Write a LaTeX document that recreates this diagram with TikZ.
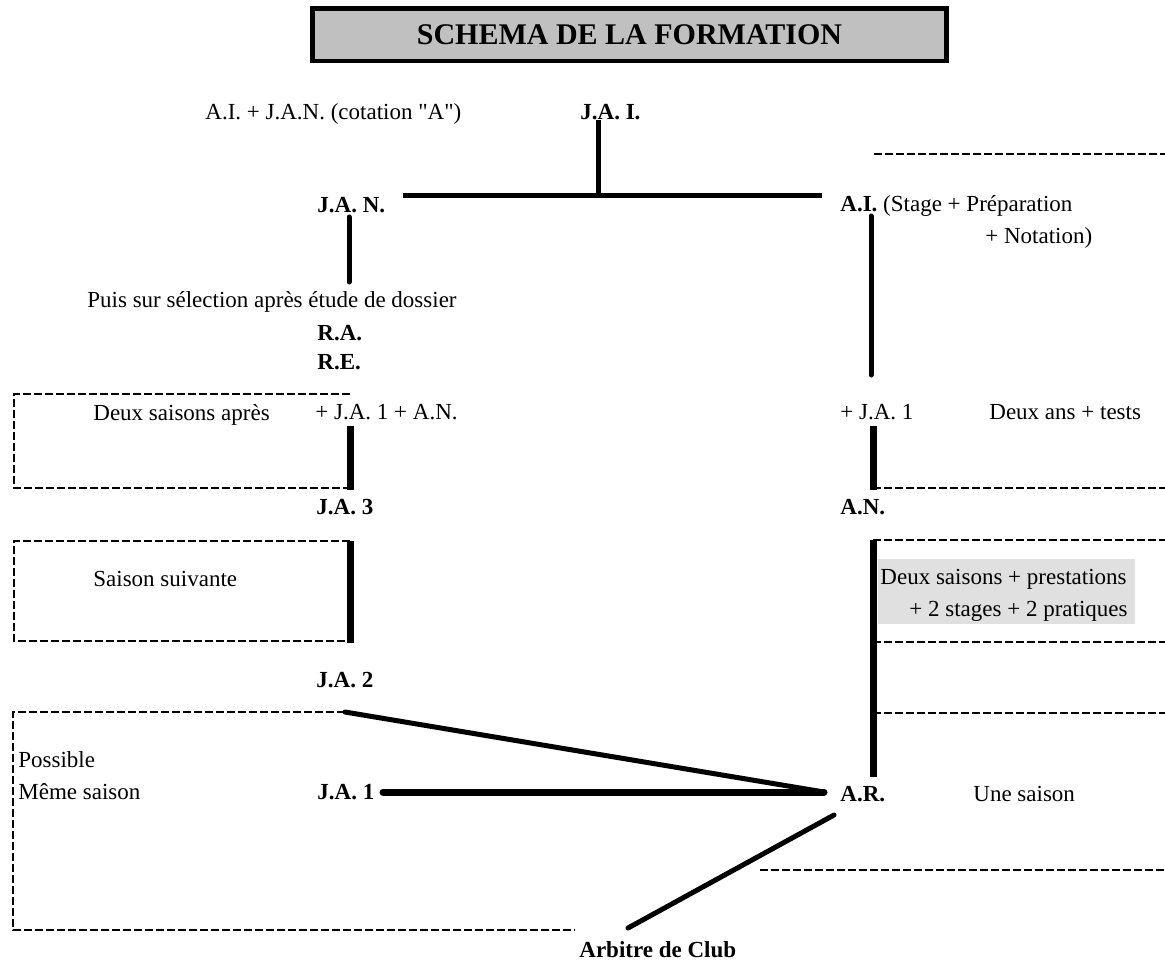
\documentclass[tikz,border=0pt]{standalone}
\usepackage{fontspec}
\setmainfont{Liberation Serif}[Ligatures=TeXOff]
\usepackage{tikz}
\usetikzlibrary{positioning}
\definecolor{titlegray}{HTML}{C0C0C0}
\definecolor{notegray}{HTML}{E0E0E0}
\frenchspacing

\begin{document}
\begin{tikzpicture}[x=0.5pt, y=-0.5pt,
    txt/.style={anchor=base west, inner sep=0pt, font=\fontsize{11.5}{14}\selectfont},
    grade/.style={txt, font=\fontsize{11.5}{14}\selectfont\bfseries},
    bar/.style={line width=2.5pt, line cap=round},
    heavy/.style={line width=3.5pt},
    dashbox/.style={line width=1pt, dash pattern=on 4pt off 1.5pt}]
    \useasboundingbox (0,0) rectangle (1165,959);
    \node[draw, line width=2.25pt, fill=titlegray, inner sep=0pt, minimum width=317pt, minimum height=26.25pt,
      font=\fontsize{15}{18}\selectfont\bfseries] (titre) at (629.5,34.5) {SCHEMA DE LA FORMATION};

    % grades et textes
    \node[txt] (cotation) at (205,119) {A.I. + J.A.N. (cotation "A")};
    \node[grade] (jai) at (580,119) {J.A. I.};
    \node[grade] (jan) at (317,212) {J.A. N.};
    \node[txt] (ai) at (840,211) {\textbf{A.I.} (Stage + Préparation};
    \node[txt] (notation) at (985,243) {+ Notation)};
    \node[txt] (puis) at (87,307) {Puis sur sélection après étude de dossier};
    \node[grade] (ra) at (317,340) {R.A.};
    \node[grade] (re) at (317,369) {R.E.};
    \node[txt] (deuxsaisons) at (93,420) {Deux saisons après};
    \node[txt] (plusja1) at (315,419) {+ J.A. 1 + A.N.};
    \node[txt] (plusja1b) at (840,419) {+ J.A. 1};
    \node[txt] (deuxans) at (989,419) {Deux ans + tests};
    \node[grade] (ja3) at (316,514) {J.A. 3};
    \node[grade] (an) at (840,514) {A.N.};
    \node[txt] (suivante) at (93,586) {Saison suivante};
    \node[fill=notegray, inner sep=0pt, minimum width=128.5pt, minimum height=32.5pt] (note) at (1006.5,591.5) {};
    \node[txt, anchor=base east] (presta) at (1127,584) {Deux saisons + prestations};
    \node[txt, anchor=base east] (stages) at (1128,616) {+ 2 stages + 2 pratiques};
    \node[grade] (ja2) at (316,687) {J.A. 2};
    \node[txt] (possible) at (18,767) {Possible};
    \node[txt] (meme) at (18,799) {Même saison};
    \node[grade] (ja1) at (317,799) {J.A. 1};
    \node[grade] (ar) at (840,801) {A.R.};
    \node[txt] (unesaison) at (973,801) {Une saison};
    \node[grade] (club) at (579,957) {Arbitre de Club};

    % points des traits
    \coordinate (jai-s) at (598,120);  \coordinate (fork) at (598,195);
    \coordinate (fork-l) at (403,195); \coordinate (fork-r) at (822,195);
    \coordinate (jan-s) at (349,217);  \coordinate (jan-e) at (349,282);
    \coordinate (ai-s) at (871,216);   \coordinate (ai-e) at (871,375);
    \coordinate (ja3-n) at (350,426);  \coordinate (ja3-e) at (350,490);
    \coordinate (ja2-n) at (350,541);  \coordinate (ja2-e) at (350,643);
    \coordinate (an-n) at (873,426);   \coordinate (an-e) at (873,490);
    \coordinate (ar-n) at (873,540);   \coordinate (ar-e) at (873,777);
    \coordinate (ja2-s) at (345,712);  \coordinate (ar-w) at (824,792);
    \coordinate (ja1-e) at (383,792);
    \coordinate (ar-sw) at (834,815);  \coordinate (club-n) at (628,928);

    \draw[bar, line cap=butt] (jai-s) -- (fork);
    \draw[bar, line cap=butt] (fork-l) -- (fork-r);
    \draw[bar] (jan-s) -- (jan-e);
    \draw[bar] (ai-s) -- (ai-e);
    \draw[heavy] (ja3-n) -- (ja3-e);
    \draw[heavy] (ja2-n) -- (ja2-e);
    \draw[heavy] (an-n) -- (an-e);
    \draw[heavy] (ar-n) -- (ar-e);
    \draw[bar] (ja2-s) -- (ar-w);
    \draw[heavy, line cap=round] (ja1-e) -- (ar-w);
    \draw[bar] (ar-sw) -- (club-n);

    % cadres en pointilles
    \draw[dashbox] (874,154) -- (1165,154);
    \draw[dashbox] (ja3-n |- 0,394) -| (14,488) -- (ja3-e |- 0,488);
    \draw[dashbox] (an-e |- 0,488) -- (1165,488);
    \draw[dashbox] (ja2-n) -| (14,641) -- (350,641);
    \draw[dashbox] (ar-n) -- (1165,540);
    \draw[dashbox] (873,642) -- (1165,642);
    \draw[dashbox] (873,713) -- (1165,713);
    \draw[dashbox] (ja2-s) -| (13,930) -- (575,930);
    \draw[dashbox] (760,870) -- (1165,870);
\end{tikzpicture}
\end{document}
